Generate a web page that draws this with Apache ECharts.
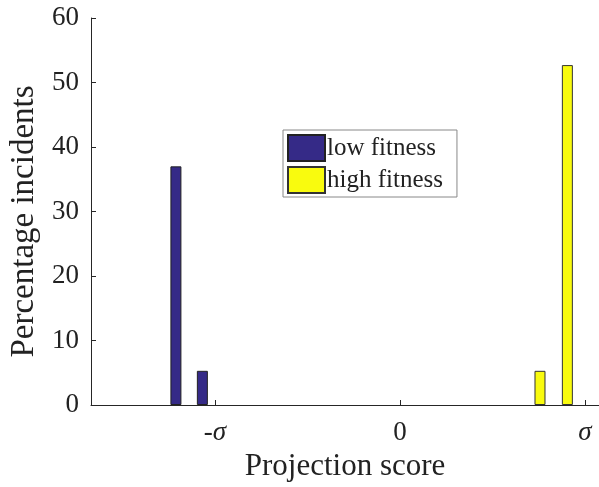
<!DOCTYPE html>
<html>
<head>
<meta charset="utf-8">
<script src="https://cdn.jsdelivr.net/npm/echarts@6/dist/echarts.min.js"></script>
<style>
  html, body { margin: 0; padding: 0; background: #fff; }
  #chart { width: 599px; height: 487px; }
</style>
</head>
<body>
<div id="chart"></div>
<script>
// Projection scores are in units of sigma; values are percentage of incidents.
const lowScores = [-1.211, -1.068];
const lowPercent = [37.0, 5.3];
const highScores = [0.757, 0.905];
const highPercent = [5.3, 52.7];
const xTickValues = [-1, 0, 1];
const xTickLabels = ['-{i|σ}', '0', '{i|σ}'];
const yTicks = [0, 10, 20, 30, 40, 50, 60];

const serif = '"Liberation Serif", "Times New Roman", serif';
const axisColor = '#262626';

const pairs = (xs, ys) => xs.map((x, k) => [x, ys[k]]);

const chart = echarts.init(document.getElementById('chart'));
chart.setOption({
  animation: false,
  backgroundColor: '#ffffff',
  grid: { left: 91, top: 18, right: 0, bottom: 82, containLabel: false },
  legend: {
    left: 283, top: 130,
    orient: 'vertical',
    icon: 'rect',
    itemWidth: 37, itemHeight: 26, itemGap: 4,
    padding: [4, 14, 3, 4],
    borderColor: '#888', borderWidth: 1,
    textStyle: { fontFamily: serif, fontSize: 25, lineHeight: 26, color: '#222', padding: [0, 0, 0, -3] },
    data: ['low fitness', 'high fitness']
  },
  xAxis: {
    type: 'value',
    min: -1.670, max: 1.076,
    name: 'Projection score',
    nameLocation: 'middle', nameGap: 46,
    nameTextStyle: { fontFamily: serif, fontSize: 31, color: '#222' },
    splitLine: { show: false },
    axisLine: { show: true, onZero: false, lineStyle: { color: axisColor, width: 1 } },
    axisTick: { show: true, inside: true, length: 5, customValues: xTickValues, lineStyle: { color: axisColor } },
    axisLabel: {
      customValues: xTickValues,
      margin: 14,
      fontFamily: serif, fontSize: 27, color: '#222',
      formatter: v => xTickLabels[xTickValues.indexOf(v)],
      rich: { i: { fontFamily: serif, fontSize: 27, fontStyle: 'italic', color: '#222' } }
    }
  },
  yAxis: {
    type: 'value',
    min: yTicks[0], max: yTicks[yTicks.length - 1], interval: 10,
    name: 'Percentage incidents',
    nameLocation: 'middle', nameGap: 44,
    nameTextStyle: { fontFamily: serif, fontSize: 33, color: '#222', padding: [0, 20, 0, 0] },
    splitLine: { show: false },
    axisLine: { show: true, onZero: false, lineStyle: { color: axisColor, width: 1 } },
    axisTick: { show: true, inside: true, length: 5, lineStyle: { color: axisColor } },
    axisLabel: { margin: 12, fontFamily: serif, fontSize: 27, color: '#222' }
  },
  series: [
    {
      name: 'low fitness', type: 'bar',
      barWidth: 11, barGap: '-100%',
      itemStyle: { color: '#352a87', borderColor: '#222', borderWidth: 1 },
      data: pairs(lowScores, lowPercent)
    },
    {
      name: 'high fitness', type: 'bar',
      barWidth: 11, barGap: '-100%',
      itemStyle: { color: '#f9fb0e', borderColor: '#333', borderWidth: 1 },
      data: pairs(highScores, highPercent)
    }
  ]
});
</script>
</body>
</html>
